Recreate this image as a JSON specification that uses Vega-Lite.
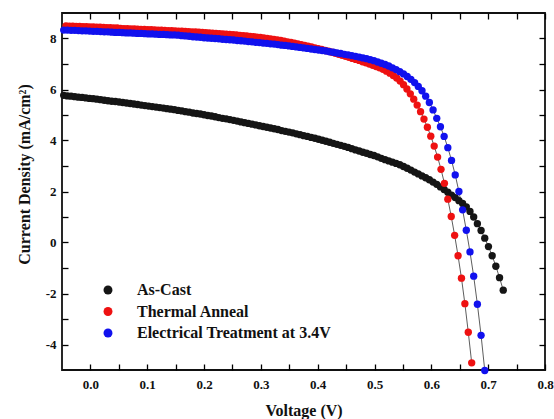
{
"$schema": "https://vega.github.io/schema/vega-lite/v6.json",
"width": 483, "height": 357,
"autosize": {"type": "none"},
"padding": {"left": 62, "top": 13, "right": 9, "bottom": 49},
"background": "white",
"config": {
  "view": {"stroke": "#111111", "strokeWidth": 1.8},
  "axis": {"domain": false, "grid": false, "ticks": true, "tickColor": "black", "tickOpacity": 1, "tickWidth": 1.3, "zindex": 1,
    "labelFont": "Liberation Serif", "labelFontSize": 13, "labelFontWeight": "bold", "labelColor": "#111111",
    "titleFont": "Liberation Serif", "titleFontSize": 16, "titleFontWeight": "bold", "titleColor": "#111111",
    "labelFlush": false, "labelOverlap": false}
},
"data": {"values": [
{"s":"As-Cast","v":-0.047,"j":5.77},{"s":"As-Cast","v":-0.0405,"j":5.75},{"s":"As-Cast","v":-0.034,"j":5.74},{"s":"As-Cast","v":-0.0275,"j":5.72},{"s":"As-Cast","v":-0.021,"j":5.70},{"s":"As-Cast","v":-0.0145,"j":5.69},{"s":"As-Cast","v":-0.008,"j":5.67},{"s":"As-Cast","v":-0.0015,"j":5.65},{"s":"As-Cast","v":0.005,"j":5.64},{"s":"As-Cast","v":0.0115,"j":5.62},
{"s":"As-Cast","v":0.018,"j":5.60},{"s":"As-Cast","v":0.0245,"j":5.58},{"s":"As-Cast","v":0.031,"j":5.56},{"s":"As-Cast","v":0.0375,"j":5.54},{"s":"As-Cast","v":0.044,"j":5.53},{"s":"As-Cast","v":0.0505,"j":5.51},{"s":"As-Cast","v":0.057,"j":5.49},{"s":"As-Cast","v":0.0635,"j":5.47},{"s":"As-Cast","v":0.070,"j":5.45},{"s":"As-Cast","v":0.0765,"j":5.43},
{"s":"As-Cast","v":0.083,"j":5.41},{"s":"As-Cast","v":0.0895,"j":5.39},{"s":"As-Cast","v":0.096,"j":5.37},{"s":"As-Cast","v":0.1025,"j":5.35},{"s":"As-Cast","v":0.109,"j":5.33},{"s":"As-Cast","v":0.1155,"j":5.31},{"s":"As-Cast","v":0.122,"j":5.29},{"s":"As-Cast","v":0.1285,"j":5.27},{"s":"As-Cast","v":0.135,"j":5.25},{"s":"As-Cast","v":0.1415,"j":5.23},
{"s":"As-Cast","v":0.148,"j":5.21},{"s":"As-Cast","v":0.1545,"j":5.18},{"s":"As-Cast","v":0.161,"j":5.16},{"s":"As-Cast","v":0.1675,"j":5.13},{"s":"As-Cast","v":0.174,"j":5.11},{"s":"As-Cast","v":0.1805,"j":5.08},{"s":"As-Cast","v":0.187,"j":5.06},{"s":"As-Cast","v":0.1935,"j":5.04},{"s":"As-Cast","v":0.200,"j":5.01},{"s":"As-Cast","v":0.2065,"j":4.98},
{"s":"As-Cast","v":0.213,"j":4.96},{"s":"As-Cast","v":0.2195,"j":4.93},{"s":"As-Cast","v":0.226,"j":4.90},{"s":"As-Cast","v":0.2325,"j":4.87},{"s":"As-Cast","v":0.239,"j":4.85},{"s":"As-Cast","v":0.2455,"j":4.82},{"s":"As-Cast","v":0.252,"j":4.79},{"s":"As-Cast","v":0.2585,"j":4.76},{"s":"As-Cast","v":0.265,"j":4.73},{"s":"As-Cast","v":0.2715,"j":4.70},
{"s":"As-Cast","v":0.278,"j":4.67},{"s":"As-Cast","v":0.2845,"j":4.64},{"s":"As-Cast","v":0.291,"j":4.61},{"s":"As-Cast","v":0.2975,"j":4.58},{"s":"As-Cast","v":0.304,"j":4.55},{"s":"As-Cast","v":0.3105,"j":4.52},{"s":"As-Cast","v":0.317,"j":4.49},{"s":"As-Cast","v":0.3235,"j":4.46},{"s":"As-Cast","v":0.330,"j":4.43},{"s":"As-Cast","v":0.3365,"j":4.39},
{"s":"As-Cast","v":0.343,"j":4.36},{"s":"As-Cast","v":0.3495,"j":4.33},{"s":"As-Cast","v":0.356,"j":4.30},{"s":"As-Cast","v":0.3625,"j":4.26},{"s":"As-Cast","v":0.369,"j":4.23},{"s":"As-Cast","v":0.3755,"j":4.19},{"s":"As-Cast","v":0.382,"j":4.16},{"s":"As-Cast","v":0.3885,"j":4.12},{"s":"As-Cast","v":0.395,"j":4.09},{"s":"As-Cast","v":0.4015,"j":4.05},
{"s":"As-Cast","v":0.408,"j":4.01},{"s":"As-Cast","v":0.4145,"j":3.97},{"s":"As-Cast","v":0.421,"j":3.93},{"s":"As-Cast","v":0.4275,"j":3.89},{"s":"As-Cast","v":0.434,"j":3.85},{"s":"As-Cast","v":0.4405,"j":3.81},{"s":"As-Cast","v":0.447,"j":3.77},{"s":"As-Cast","v":0.4535,"j":3.73},{"s":"As-Cast","v":0.460,"j":3.68},{"s":"As-Cast","v":0.4665,"j":3.63},
{"s":"As-Cast","v":0.473,"j":3.59},{"s":"As-Cast","v":0.4795,"j":3.54},{"s":"As-Cast","v":0.486,"j":3.50},{"s":"As-Cast","v":0.4925,"j":3.45},{"s":"As-Cast","v":0.499,"j":3.41},{"s":"As-Cast","v":0.5055,"j":3.36},{"s":"As-Cast","v":0.512,"j":3.30},{"s":"As-Cast","v":0.5185,"j":3.25},{"s":"As-Cast","v":0.525,"j":3.20},{"s":"As-Cast","v":0.5315,"j":3.15},
{"s":"As-Cast","v":0.538,"j":3.10},{"s":"As-Cast","v":0.5445,"j":3.05},{"s":"As-Cast","v":0.551,"j":2.98},{"s":"As-Cast","v":0.5575,"j":2.91},{"s":"As-Cast","v":0.564,"j":2.84},{"s":"As-Cast","v":0.5705,"j":2.76},{"s":"As-Cast","v":0.577,"j":2.69},{"s":"As-Cast","v":0.5835,"j":2.61},{"s":"As-Cast","v":0.590,"j":2.54},{"s":"As-Cast","v":0.5965,"j":2.46},
{"s":"As-Cast","v":0.603,"j":2.37},{"s":"As-Cast","v":0.6095,"j":2.28},{"s":"As-Cast","v":0.616,"j":2.18},{"s":"As-Cast","v":0.6225,"j":2.08},{"s":"As-Cast","v":0.629,"j":1.97},{"s":"As-Cast","v":0.6355,"j":1.86},{"s":"As-Cast","v":0.642,"j":1.76},{"s":"As-Cast","v":0.6485,"j":1.64},{"s":"As-Cast","v":0.655,"j":1.53},{"s":"As-Cast","v":0.6615,"j":1.40},
{"s":"As-Cast","v":0.668,"j":1.22},{"s":"As-Cast","v":0.6745,"j":1.00},{"s":"As-Cast","v":0.681,"j":0.74},{"s":"As-Cast","v":0.6875,"j":0.47},{"s":"As-Cast","v":0.694,"j":0.17},{"s":"As-Cast","v":0.7005,"j":-0.16},{"s":"As-Cast","v":0.707,"j":-0.52},{"s":"As-Cast","v":0.7135,"j":-0.93},{"s":"As-Cast","v":0.720,"j":-1.38},{"s":"As-Cast","v":0.7265,"j":-1.87},
{"s":"Thermal Anneal","v":-0.043,"j":8.49},{"s":"Thermal Anneal","v":-0.037,"j":8.48},{"s":"Thermal Anneal","v":-0.031,"j":8.48},{"s":"Thermal Anneal","v":-0.025,"j":8.47},{"s":"Thermal Anneal","v":-0.019,"j":8.47},{"s":"Thermal Anneal","v":-0.013,"j":8.46},{"s":"Thermal Anneal","v":-0.007,"j":8.46},{"s":"Thermal Anneal","v":-0.001,"j":8.45},{"s":"Thermal Anneal","v":0.005,"j":8.45},{"s":"Thermal Anneal","v":0.011,"j":8.44},
{"s":"Thermal Anneal","v":0.017,"j":8.44},{"s":"Thermal Anneal","v":0.023,"j":8.43},{"s":"Thermal Anneal","v":0.029,"j":8.42},{"s":"Thermal Anneal","v":0.035,"j":8.42},{"s":"Thermal Anneal","v":0.041,"j":8.41},{"s":"Thermal Anneal","v":0.047,"j":8.41},{"s":"Thermal Anneal","v":0.053,"j":8.40},{"s":"Thermal Anneal","v":0.059,"j":8.39},{"s":"Thermal Anneal","v":0.065,"j":8.39},{"s":"Thermal Anneal","v":0.071,"j":8.38},
{"s":"Thermal Anneal","v":0.077,"j":8.38},{"s":"Thermal Anneal","v":0.083,"j":8.37},{"s":"Thermal Anneal","v":0.089,"j":8.36},{"s":"Thermal Anneal","v":0.095,"j":8.36},{"s":"Thermal Anneal","v":0.101,"j":8.35},{"s":"Thermal Anneal","v":0.107,"j":8.35},{"s":"Thermal Anneal","v":0.113,"j":8.34},{"s":"Thermal Anneal","v":0.119,"j":8.33},{"s":"Thermal Anneal","v":0.125,"j":8.33},{"s":"Thermal Anneal","v":0.131,"j":8.32},
{"s":"Thermal Anneal","v":0.137,"j":8.31},{"s":"Thermal Anneal","v":0.143,"j":8.31},{"s":"Thermal Anneal","v":0.149,"j":8.30},{"s":"Thermal Anneal","v":0.155,"j":8.29},{"s":"Thermal Anneal","v":0.161,"j":8.29},{"s":"Thermal Anneal","v":0.167,"j":8.28},{"s":"Thermal Anneal","v":0.173,"j":8.27},{"s":"Thermal Anneal","v":0.179,"j":8.26},{"s":"Thermal Anneal","v":0.185,"j":8.26},{"s":"Thermal Anneal","v":0.191,"j":8.25},
{"s":"Thermal Anneal","v":0.197,"j":8.24},{"s":"Thermal Anneal","v":0.203,"j":8.23},{"s":"Thermal Anneal","v":0.209,"j":8.22},{"s":"Thermal Anneal","v":0.215,"j":8.21},{"s":"Thermal Anneal","v":0.221,"j":8.20},{"s":"Thermal Anneal","v":0.227,"j":8.19},{"s":"Thermal Anneal","v":0.233,"j":8.18},{"s":"Thermal Anneal","v":0.239,"j":8.17},{"s":"Thermal Anneal","v":0.245,"j":8.16},{"s":"Thermal Anneal","v":0.251,"j":8.15},
{"s":"Thermal Anneal","v":0.257,"j":8.14},{"s":"Thermal Anneal","v":0.263,"j":8.12},{"s":"Thermal Anneal","v":0.269,"j":8.11},{"s":"Thermal Anneal","v":0.275,"j":8.10},{"s":"Thermal Anneal","v":0.281,"j":8.08},{"s":"Thermal Anneal","v":0.287,"j":8.07},{"s":"Thermal Anneal","v":0.293,"j":8.05},{"s":"Thermal Anneal","v":0.299,"j":8.04},{"s":"Thermal Anneal","v":0.305,"j":8.02},{"s":"Thermal Anneal","v":0.311,"j":8.00},
{"s":"Thermal Anneal","v":0.317,"j":7.98},{"s":"Thermal Anneal","v":0.323,"j":7.96},{"s":"Thermal Anneal","v":0.329,"j":7.94},{"s":"Thermal Anneal","v":0.335,"j":7.92},{"s":"Thermal Anneal","v":0.341,"j":7.90},{"s":"Thermal Anneal","v":0.347,"j":7.87},{"s":"Thermal Anneal","v":0.353,"j":7.85},{"s":"Thermal Anneal","v":0.359,"j":7.82},{"s":"Thermal Anneal","v":0.365,"j":7.79},{"s":"Thermal Anneal","v":0.371,"j":7.76},
{"s":"Thermal Anneal","v":0.377,"j":7.73},{"s":"Thermal Anneal","v":0.383,"j":7.70},{"s":"Thermal Anneal","v":0.389,"j":7.67},{"s":"Thermal Anneal","v":0.395,"j":7.63},{"s":"Thermal Anneal","v":0.401,"j":7.60},{"s":"Thermal Anneal","v":0.407,"j":7.57},{"s":"Thermal Anneal","v":0.413,"j":7.53},{"s":"Thermal Anneal","v":0.419,"j":7.50},{"s":"Thermal Anneal","v":0.425,"j":7.46},{"s":"Thermal Anneal","v":0.431,"j":7.42},
{"s":"Thermal Anneal","v":0.437,"j":7.38},{"s":"Thermal Anneal","v":0.443,"j":7.34},{"s":"Thermal Anneal","v":0.449,"j":7.30},{"s":"Thermal Anneal","v":0.455,"j":7.26},{"s":"Thermal Anneal","v":0.461,"j":7.22},{"s":"Thermal Anneal","v":0.467,"j":7.18},{"s":"Thermal Anneal","v":0.473,"j":7.14},{"s":"Thermal Anneal","v":0.479,"j":7.09},{"s":"Thermal Anneal","v":0.485,"j":7.05},{"s":"Thermal Anneal","v":0.491,"j":7.00},
{"s":"Thermal Anneal","v":0.497,"j":6.95},{"s":"Thermal Anneal","v":0.503,"j":6.90},{"s":"Thermal Anneal","v":0.509,"j":6.85},{"s":"Thermal Anneal","v":0.515,"j":6.79},{"s":"Thermal Anneal","v":0.521,"j":6.72},{"s":"Thermal Anneal","v":0.527,"j":6.64},{"s":"Thermal Anneal","v":0.533,"j":6.55},{"s":"Thermal Anneal","v":0.539,"j":6.45},{"s":"Thermal Anneal","v":0.545,"j":6.33},{"s":"Thermal Anneal","v":0.551,"j":6.19},
{"s":"Thermal Anneal","v":0.557,"j":6.02},{"s":"Thermal Anneal","v":0.563,"j":5.83},{"s":"Thermal Anneal","v":0.569,"j":5.62},{"s":"Thermal Anneal","v":0.575,"j":5.39},{"s":"Thermal Anneal","v":0.581,"j":5.13},{"s":"Thermal Anneal","v":0.587,"j":4.84},{"s":"Thermal Anneal","v":0.593,"j":4.52},{"s":"Thermal Anneal","v":0.599,"j":4.17},{"s":"Thermal Anneal","v":0.605,"j":3.78},{"s":"Thermal Anneal","v":0.611,"j":3.35},
{"s":"Thermal Anneal","v":0.617,"j":2.87},{"s":"Thermal Anneal","v":0.623,"j":2.32},{"s":"Thermal Anneal","v":0.629,"j":1.70},{"s":"Thermal Anneal","v":0.635,"j":1.02},{"s":"Thermal Anneal","v":0.641,"j":0.28},{"s":"Thermal Anneal","v":0.647,"j":-0.52},{"s":"Thermal Anneal","v":0.653,"j":-1.40},{"s":"Thermal Anneal","v":0.659,"j":-2.40},{"s":"Thermal Anneal","v":0.665,"j":-3.52},{"s":"Thermal Anneal","v":0.671,"j":-4.72},
{"s":"Electrical Treatment at 3.4V","v":-0.047,"j":8.33},{"s":"Electrical Treatment at 3.4V","v":-0.0405,"j":8.33},{"s":"Electrical Treatment at 3.4V","v":-0.034,"j":8.32},{"s":"Electrical Treatment at 3.4V","v":-0.0275,"j":8.32},{"s":"Electrical Treatment at 3.4V","v":-0.021,"j":8.31},{"s":"Electrical Treatment at 3.4V","v":-0.0145,"j":8.30},{"s":"Electrical Treatment at 3.4V","v":-0.008,"j":8.30},{"s":"Electrical Treatment at 3.4V","v":-0.0015,"j":8.29},{"s":"Electrical Treatment at 3.4V","v":0.005,"j":8.28},{"s":"Electrical Treatment at 3.4V","v":0.0115,"j":8.28},
{"s":"Electrical Treatment at 3.4V","v":0.018,"j":8.27},{"s":"Electrical Treatment at 3.4V","v":0.0245,"j":8.26},{"s":"Electrical Treatment at 3.4V","v":0.031,"j":8.26},{"s":"Electrical Treatment at 3.4V","v":0.0375,"j":8.25},{"s":"Electrical Treatment at 3.4V","v":0.044,"j":8.24},{"s":"Electrical Treatment at 3.4V","v":0.0505,"j":8.24},{"s":"Electrical Treatment at 3.4V","v":0.057,"j":8.23},{"s":"Electrical Treatment at 3.4V","v":0.0635,"j":8.22},{"s":"Electrical Treatment at 3.4V","v":0.070,"j":8.22},{"s":"Electrical Treatment at 3.4V","v":0.0765,"j":8.21},
{"s":"Electrical Treatment at 3.4V","v":0.083,"j":8.20},{"s":"Electrical Treatment at 3.4V","v":0.0895,"j":8.20},{"s":"Electrical Treatment at 3.4V","v":0.096,"j":8.19},{"s":"Electrical Treatment at 3.4V","v":0.1025,"j":8.18},{"s":"Electrical Treatment at 3.4V","v":0.109,"j":8.18},{"s":"Electrical Treatment at 3.4V","v":0.1155,"j":8.17},{"s":"Electrical Treatment at 3.4V","v":0.122,"j":8.16},{"s":"Electrical Treatment at 3.4V","v":0.1285,"j":8.16},{"s":"Electrical Treatment at 3.4V","v":0.135,"j":8.15},{"s":"Electrical Treatment at 3.4V","v":0.1415,"j":8.14},
{"s":"Electrical Treatment at 3.4V","v":0.148,"j":8.14},{"s":"Electrical Treatment at 3.4V","v":0.1545,"j":8.13},{"s":"Electrical Treatment at 3.4V","v":0.161,"j":8.11},{"s":"Electrical Treatment at 3.4V","v":0.1675,"j":8.10},{"s":"Electrical Treatment at 3.4V","v":0.174,"j":8.09},{"s":"Electrical Treatment at 3.4V","v":0.1805,"j":8.07},{"s":"Electrical Treatment at 3.4V","v":0.187,"j":8.06},{"s":"Electrical Treatment at 3.4V","v":0.1935,"j":8.05},{"s":"Electrical Treatment at 3.4V","v":0.200,"j":8.03},{"s":"Electrical Treatment at 3.4V","v":0.2065,"j":8.02},
{"s":"Electrical Treatment at 3.4V","v":0.213,"j":8.01},{"s":"Electrical Treatment at 3.4V","v":0.2195,"j":8.00},{"s":"Electrical Treatment at 3.4V","v":0.226,"j":7.99},{"s":"Electrical Treatment at 3.4V","v":0.2325,"j":7.97},{"s":"Electrical Treatment at 3.4V","v":0.239,"j":7.96},{"s":"Electrical Treatment at 3.4V","v":0.2455,"j":7.95},{"s":"Electrical Treatment at 3.4V","v":0.252,"j":7.94},{"s":"Electrical Treatment at 3.4V","v":0.2585,"j":7.92},{"s":"Electrical Treatment at 3.4V","v":0.265,"j":7.91},{"s":"Electrical Treatment at 3.4V","v":0.2715,"j":7.90},
{"s":"Electrical Treatment at 3.4V","v":0.278,"j":7.88},{"s":"Electrical Treatment at 3.4V","v":0.2845,"j":7.87},{"s":"Electrical Treatment at 3.4V","v":0.291,"j":7.85},{"s":"Electrical Treatment at 3.4V","v":0.2975,"j":7.84},{"s":"Electrical Treatment at 3.4V","v":0.304,"j":7.82},{"s":"Electrical Treatment at 3.4V","v":0.3105,"j":7.81},{"s":"Electrical Treatment at 3.4V","v":0.317,"j":7.79},{"s":"Electrical Treatment at 3.4V","v":0.3235,"j":7.78},{"s":"Electrical Treatment at 3.4V","v":0.330,"j":7.76},{"s":"Electrical Treatment at 3.4V","v":0.3365,"j":7.74},
{"s":"Electrical Treatment at 3.4V","v":0.343,"j":7.73},{"s":"Electrical Treatment at 3.4V","v":0.3495,"j":7.71},{"s":"Electrical Treatment at 3.4V","v":0.356,"j":7.69},{"s":"Electrical Treatment at 3.4V","v":0.3625,"j":7.67},{"s":"Electrical Treatment at 3.4V","v":0.369,"j":7.65},{"s":"Electrical Treatment at 3.4V","v":0.3755,"j":7.63},{"s":"Electrical Treatment at 3.4V","v":0.382,"j":7.61},{"s":"Electrical Treatment at 3.4V","v":0.3885,"j":7.59},{"s":"Electrical Treatment at 3.4V","v":0.395,"j":7.57},{"s":"Electrical Treatment at 3.4V","v":0.4015,"j":7.55},
{"s":"Electrical Treatment at 3.4V","v":0.408,"j":7.53},{"s":"Electrical Treatment at 3.4V","v":0.4145,"j":7.51},{"s":"Electrical Treatment at 3.4V","v":0.421,"j":7.48},{"s":"Electrical Treatment at 3.4V","v":0.4275,"j":7.46},{"s":"Electrical Treatment at 3.4V","v":0.434,"j":7.43},{"s":"Electrical Treatment at 3.4V","v":0.4405,"j":7.41},{"s":"Electrical Treatment at 3.4V","v":0.447,"j":7.38},{"s":"Electrical Treatment at 3.4V","v":0.4535,"j":7.36},{"s":"Electrical Treatment at 3.4V","v":0.460,"j":7.33},{"s":"Electrical Treatment at 3.4V","v":0.4665,"j":7.30},
{"s":"Electrical Treatment at 3.4V","v":0.473,"j":7.27},{"s":"Electrical Treatment at 3.4V","v":0.4795,"j":7.24},{"s":"Electrical Treatment at 3.4V","v":0.486,"j":7.21},{"s":"Electrical Treatment at 3.4V","v":0.4925,"j":7.17},{"s":"Electrical Treatment at 3.4V","v":0.499,"j":7.13},{"s":"Electrical Treatment at 3.4V","v":0.5055,"j":7.08},{"s":"Electrical Treatment at 3.4V","v":0.512,"j":7.03},{"s":"Electrical Treatment at 3.4V","v":0.5185,"j":6.98},{"s":"Electrical Treatment at 3.4V","v":0.525,"j":6.92},{"s":"Electrical Treatment at 3.4V","v":0.5315,"j":6.85},
{"s":"Electrical Treatment at 3.4V","v":0.538,"j":6.78},{"s":"Electrical Treatment at 3.4V","v":0.5445,"j":6.70},{"s":"Electrical Treatment at 3.4V","v":0.551,"j":6.61},{"s":"Electrical Treatment at 3.4V","v":0.5575,"j":6.51},{"s":"Electrical Treatment at 3.4V","v":0.564,"j":6.40},{"s":"Electrical Treatment at 3.4V","v":0.5705,"j":6.27},{"s":"Electrical Treatment at 3.4V","v":0.577,"j":6.12},{"s":"Electrical Treatment at 3.4V","v":0.5835,"j":5.95},{"s":"Electrical Treatment at 3.4V","v":0.590,"j":5.74},{"s":"Electrical Treatment at 3.4V","v":0.5965,"j":5.49},
{"s":"Electrical Treatment at 3.4V","v":0.603,"j":5.20},{"s":"Electrical Treatment at 3.4V","v":0.6095,"j":4.87},{"s":"Electrical Treatment at 3.4V","v":0.616,"j":4.54},{"s":"Electrical Treatment at 3.4V","v":0.6225,"j":4.16},{"s":"Electrical Treatment at 3.4V","v":0.629,"j":3.72},{"s":"Electrical Treatment at 3.4V","v":0.6355,"j":3.22},{"s":"Electrical Treatment at 3.4V","v":0.642,"j":2.65},{"s":"Electrical Treatment at 3.4V","v":0.6485,"j":2.00},{"s":"Electrical Treatment at 3.4V","v":0.655,"j":1.28},{"s":"Electrical Treatment at 3.4V","v":0.6615,"j":0.48},
{"s":"Electrical Treatment at 3.4V","v":0.668,"j":-0.37},{"s":"Electrical Treatment at 3.4V","v":0.6745,"j":-1.32},{"s":"Electrical Treatment at 3.4V","v":0.681,"j":-2.42},{"s":"Electrical Treatment at 3.4V","v":0.6875,"j":-3.64},{"s":"Electrical Treatment at 3.4V","v":0.694,"j":-5.02}
]},
"layer": [
  {
    "mark": {"type": "line", "color": "#333333", "strokeWidth": 0.8},
    "encoding": {
      "x": {"field": "v", "type": "quantitative", "scale": {"domain": [-0.05, 0.8], "nice": false, "zero": false},
        "axis": {"orient": "top", "title": null, "labels": false, "offset": -6, "tickSize": 6,
          "values": [0,0.05,0.1,0.15,0.2,0.25,0.3,0.35,0.4,0.45,0.5,0.55,0.6,0.65,0.7,0.75,0.8]}},
      "y": {"field": "j", "type": "quantitative", "scale": {"domain": [-5, 9], "nice": false, "zero": false},
        "axis": {"orient": "right", "title": null, "labels": false, "offset": -6, "tickSize": 6,
          "values": [-4,-3,-2,-1,0,1,2,3,4,5,6,7,8]}},
      "detail": {"field": "s"},
      "order": {"field": "v"}
    }
  },
  {
    "mark": {"type": "point", "filled": true, "size": 54, "opacity": 1},
    "encoding": {
      "x": {"field": "v", "type": "quantitative",
        "axis": {"orient": "bottom", "title": "Voltage (V)", "titleY": 46, "titleBaseline": "middle",
          "offset": -6, "tickSize": 6, "labelPadding": 8,
          "values": [0,0.05,0.1,0.15,0.2,0.25,0.3,0.35,0.4,0.45,0.5,0.55,0.6,0.65,0.7,0.75,0.8],
          "labelExpr": "abs(datum.value*10-round(datum.value*10))<0.001 ? format(datum.value,'.1f') : ''"}},
      "y": {"field": "j", "type": "quantitative",
        "axis": {"orient": "left", "title": "Current Density (mA/cm²)", "titleX": -44, "titleY": 161, "titleBaseline": "middle",
          "offset": -6, "tickSize": 6, "labelPadding": 6,
          "values": [-4,-3,-2,-1,0,1,2,3,4,5,6,7,8],
          "labelExpr": "datum.value % 2 == 0 ? '' + datum.value : ''"}},
      "color": {"field": "s", "type": "nominal",
        "scale": {"domain": ["As-Cast", "Thermal Anneal", "Electrical Treatment at 3.4V"], "range": ["#151515", "#ee1111", "#1111ee"]},
        "legend": {"title": null, "orient": "none", "legendX": 38, "legendY": 269, "padding": 0,
          "symbolType": "circle", "symbolSize": 80, "symbolOpacity": 1,
          "labelFont": "Liberation Serif", "labelFontSize": 16, "labelFontWeight": "bold", "labelColor": "#111111",
          "labelOffset": 21, "rowPadding": 5.5, "labelLimit": 400}
      }
    }
  }
]
}
